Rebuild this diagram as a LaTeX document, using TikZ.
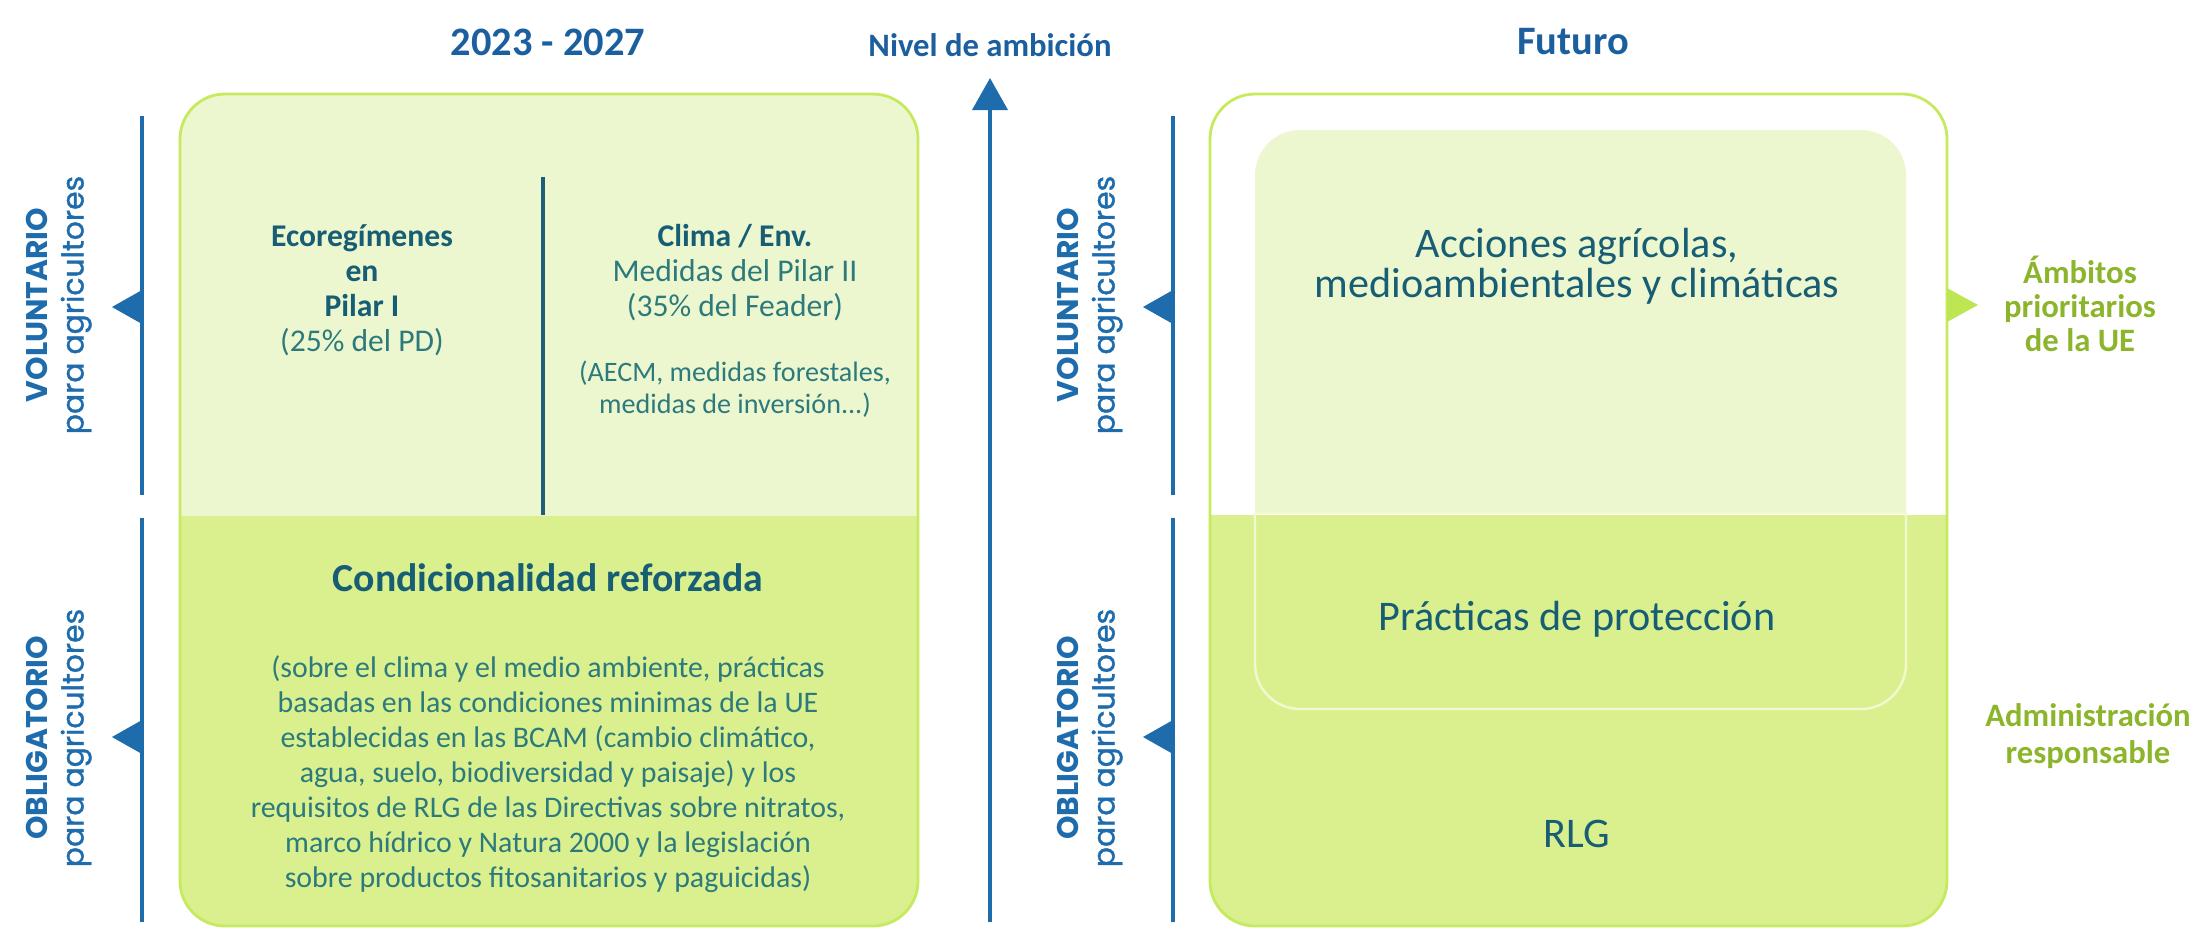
\documentclass[tikz,border=0pt]{standalone}
\usepackage{fontspec}
\setmainfont{Carlito}
\newfontfamily\popfont{Poppins}
\newfontfamily\popmed[FakeBold=1.2]{Poppins}
\usetikzlibrary{arrows.meta}
\definecolor{azul}{HTML}{1F6CAD}
\definecolor{azultit}{HTML}{1C5F9E}
\definecolor{tinta}{HTML}{175E74}
\definecolor{tintaclara}{HTML}{2C7A7C}
\definecolor{verdeclaro}{HTML}{EDF7CF}
\definecolor{verdeosc}{HTML}{DAF08F}
\definecolor{borde}{HTML}{C6EA5E}
\definecolor{lineaint}{HTML}{F2F9D0}
\definecolor{oliva}{HTML}{8CB52C}
\definecolor{verdetri}{HTML}{BDE652}
\definecolor{divisor}{HTML}{1E5E78}

\begin{document}
\begin{tikzpicture}[x=0.1mm, y=-0.1mm]
    \tikzset{
      titulo/.style = {text=azultit, font=\bfseries\fontsize{11.5}{13}\selectfont},
      caja/.style = {draw=borde, line width=0.8pt, rounded corners=4.5mm},
      contorno/.style = {draw=lineaint, line width=0.7pt, rounded corners=4.5mm},
      eje/.style = {draw=azul, line width=0.9pt},
      lado/.style = {rotate=90, align=center, text=azul, font=\fontsize{8.5}{10.2}\selectfont},
      cuerpo/.style = {text=tintaclara, align=center, font=\fontsize{9}{9.96}\selectfont},
      cabeza/.style = {text=tinta, align=center, font=\fontsize{12}{11.4}\selectfont},
      ambito/.style = {text=oliva, align=center, font=\bfseries\fontsize{9.3}{9.7}\selectfont}
    }
    \useasboundingbox (0,0) rectangle (2208,928);

    \fill[verdeosc, rounded corners=4.5mm] (180,94) rectangle (918,926);
    \begin{scope}
      \clip (0,0) rectangle (2208,515);
      \fill[verdeclaro, rounded corners=4.5mm] (180,94) rectangle (918,926);
    \end{scope}
    \draw[caja] (180,94) rectangle (918,926);
    \draw[divisor, line width=0.9pt] (543,177) -- (543,515);

    \begin{scope}
      \clip[rounded corners=4.5mm] (1210,94) rectangle (1947,926);
      \fill[verdeosc] (1210,515) rectangle (1947,926);
    \end{scope}
    \begin{scope}
      \clip (0,0) rectangle (2208,512);
      \fill[verdeclaro, rounded corners=4.5mm] (1255,130) rectangle (1906,709);
    \end{scope}
    \draw[contorno] (1255,513) -- (1906,513);
    \draw[contorno] (1255,513) -- (1255,709) -- (1906,709) -- (1906,513);
    \draw[caja] (1210,94) rectangle (1947,926);
    \fill[verdetri] (1947,288) -- (1978,305) -- (1947,322) -- cycle;

    \foreach \ax/\nm in {142/i, 1173/d} {
      \draw[eje] (\ax,116) -- (\ax,495);
      \draw[eje] (\ax,518) -- (\ax,922);
      \fill[azul] (\ax,290) -- (\ax-30,307) -- (\ax,324) -- cycle;
      \fill[azul] (\ax,720) -- (\ax-30,737) -- (\ax,754) -- cycle;
      \node[lado] (vol\nm) at (\ax-83,305) {{\popfont\bfseries VOLUNTARIO}\\{\popmed para agricultores}};
      \node[lado] (obl\nm) at (\ax-83,738) {{\popfont\bfseries OBLIGATORIO}\\{\popmed para agricultores}};
    }

    \coordinate (nivbase) at (990,922);
    \coordinate (nivtope) at (990,78);
    \draw[eje, line width=1.1pt, -{Triangle[width=3.5mm, length=3.2mm]}] (nivbase) -- (nivtope);

    \node[titulo] (periodo) at (548,42) {2023 - 2027};
    \node[titulo, font=\bfseries\fontsize{9.3}{11}\selectfont] (nivel) at (990,45) {Nivel de ambición};
    \node[titulo] (futuro) at (1573,42) {Futuro};

    \node[cuerpo] (eco) at (362,290) {\textcolor{tinta}{\textbf{Ecoregímenes}}\\\textcolor{tinta}{\textbf{en}}\\\textcolor{tinta}{\textbf{Pilar I}}\\(25\% del PD)};
    \node[cuerpo] (clima) at (735,273) {\textcolor{tinta}{\textbf{Clima / Env.}}\\Medidas del Pilar II\\(35\% del Feader)};
    \node[cuerpo, font=\fontsize{8}{9.1}\selectfont] (aecm) at (735,389) {(AECM, medidas forestales,\\medidas de inversión...)};
    \node[cabeza, font=\bfseries\fontsize{11.3}{12}\selectfont] (cond) at (548,578) {Condicionalidad reforzada};
    \node[cuerpo, font=\fontsize{8.5}{9.96}\selectfont] (parrafo) at (548,774) {(sobre el clima y el medio ambiente, prácticas\\basadas en las condiciones minimas de la UE\\establecidas en las BCAM (cambio climático,\\agua, suelo, biodiversidad y paisaje) y los\\requisitos de RLG de las Directivas sobre nitratos,\\marco hídrico y Natura 2000 y la legislación\\sobre productos fitosanitarios y paguicidas)};

    \node[cabeza] (acciones) at (1577,266) {Acciones agrícolas,\\medioambientales y climáticas};
    \node[cabeza] (practicas) at (1577,619) {Prácticas de protección};
    \node[cabeza] (rlg) at (1577,834) {RLG};

    \node[ambito] (ambitos) at (2080,304) {Ámbitos\\prioritarios\\de la UE};
    \node[ambito, font=\bfseries\fontsize{9.3}{10.5}\selectfont] (admin) at (2088,736) {Administración\\responsable};
\end{tikzpicture}
\end{document}
